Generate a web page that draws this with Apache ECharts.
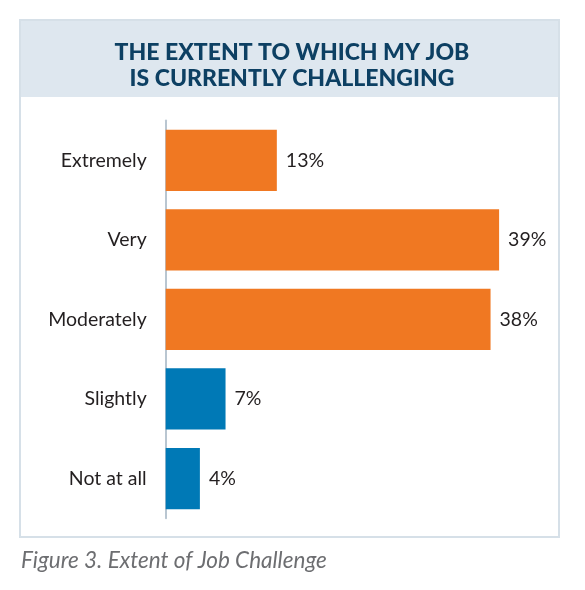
<!DOCTYPE html>
<html>
<head>
<meta charset="utf-8">
<script src="https://cdn.jsdelivr.net/npm/echarts@6/dist/echarts.min.js"></script>
<style>
html,body{margin:0;padding:0;background:#fff;}
#chart{width:585px;height:590px;}
</style>
</head>
<body>
<div id="chart"></div>
<script>
const categories = ['Extremely', 'Very', 'Moderately', 'Slightly', 'Not at all'];
const values = [13, 39, 38, 7, 4];
const challengedGroup = ['Extremely', 'Very', 'Moderately'];
const titleLines = ['THE EXTENT TO WHICH MY JOB', 'IS CURRENTLY CHALLENGING'];
const caption = 'Figure 3. Extent of Job Challenge';

const ORANGE = '#F07822';
const BLUE = '#0079B6';
const TEXT = '#231F20';
const FONT = 'Lato, "Noto Sans", sans-serif';

const chart = echarts.init(document.getElementById('chart'), null, {renderer: 'canvas'});
chart.setOption({
  backgroundColor: '#ffffff',
  animation: false,
  graphic: [
    {type: 'rect', shape: {x: 20, y: 20, width: 539, height: 517}, style: {fill: '#ffffff', stroke: '#D6E0E8', lineWidth: 2}, z: 0},
    {type: 'rect', shape: {x: 21, y: 21, width: 537, height: 76}, style: {fill: '#DEE7EF'}, z: 1},
    {type: 'text', left: 21, top: 549, style: {text: caption, font: 'italic 22.5px ' + FONT, fill: '#6D6E71'}, z: 2}
  ],
  title: {
    text: titleLines.join('\n'),
    left: 287,
    top: 34,
    textAlign: 'center',
    textStyle: {fontFamily: FONT, fontWeight: 900, fontSize: 23, lineHeight: 26.7, color: '#0D4063'},
    z: 3
  },
  grid: {left: 165.7, right: 34.6, top: 120.5, bottom: 71.7, containLabel: false},
  xAxis: {
    type: 'value', min: 0, max: 45, show: false
  },
  yAxis: {
    type: 'category', data: categories, inverse: true,
    axisLine: {show: true, lineStyle: {color: '#B9C6D1', width: 2}},
    axisTick: {show: false},
    axisLabel: {margin: 19, fontFamily: FONT, fontSize: 19.5, color: TEXT}
  },
  series: [{
    type: 'bar',
    data: values,
    barCategoryGap: '23%',
    itemStyle: {
      color: p => challengedGroup.includes(categories[p.dataIndex]) ? ORANGE : BLUE
    },
    label: {
      show: true, position: 'right', distance: 9,
      formatter: p => p.value + '%',
      fontFamily: FONT, fontSize: 19.5, color: TEXT
    },
    z: 4
  }]
});
</script>
</body>
</html>
